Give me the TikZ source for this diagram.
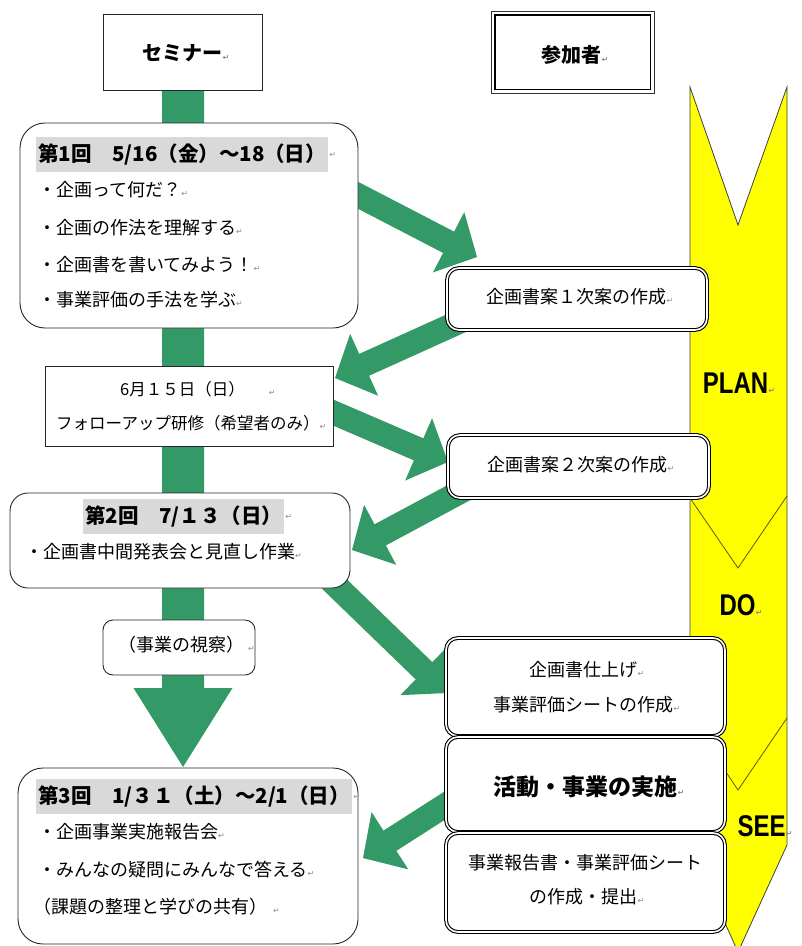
\documentclass[tikz,border=0pt]{standalone}
\usepackage{fontspec}
\setmainfont{Noto Sans CJK JP}
\newfontfamily\latinbf{Liberation Sans}
\newfontfamily\retfont{DejaVu Sans}
\usetikzlibrary{calc}
\definecolor{arrowgreen}{RGB}{51,153,102}
\definecolor{hlgray}{RGB}{217,217,217}
\definecolor{bandyellow}{RGB}{255,255,0}
\definecolor{sepline}{RGB}{90,90,20}
\newcommand\pmk{{\retfont\fontsize{8}{8}\selectfont\color{black!45}↵}}
% #1 start, #2 tip, #3 shaft half width, #4 head half width, #5 head length
\newcommand\blockarrow[5]{%
  \coordinate (ab) at ($(#2)!#5!(#1)$);
  \fill[arrowgreen] ($(#1)!#3!90:(#2)$) -- ($(ab)!#3!-90:(#1)$) -- ($(ab)!#4!-90:(#1)$) -- (#2)
    -- ($(ab)!#4!90:(#1)$) -- ($(ab)!#3!90:(#1)$) -- ($(#1)!#3!-90:(#2)$) -- cycle;
}
\tikzset{
  plainbox/.style={draw=black!85, line width=0.9pt, fill=white, inner sep=0pt},
  roundbox/.style={plainbox, rounded corners=22pt},
  dblbox/.style={draw=black, fill=white, double=white, double distance=1.6pt, line width=1.1pt, rounded corners=12pt, inner sep=0pt},
  txt/.style={inner sep=0pt, anchor=west, font=\fontsize{18}{18}\selectfont},
  ctxt/.style={inner sep=0pt, font=\fontsize{18}{18}\selectfont},
  ttl/.style={inner xsep=2pt, inner ysep=0pt, anchor=west, fill=hlgray, minimum height=35pt, font=\fontsize{20.5}{20.5}\selectfont\bfseries},
  retn/.style={inner sep=1pt, anchor=west},
  pdc/.style={inner sep=0pt, font=\latinbf\bfseries\fontsize{24}{24}\selectfont},
}
\begin{document}
\begin{tikzpicture}[x=1pt,y=-1pt]
\useasboundingbox (0,0) rectangle (802,946);

% yellow PDS band
\fill[bandyellow, draw=black!75, line width=0.8pt] (690,87) -- (738,225) -- (787,87) -- (787,845) -- (738,952) -- (690,845) -- cycle;
\draw[sepline, line width=0.8pt] (690,498) -- (738,568) -- (787,496);
\draw[sepline, line width=0.8pt] (690,718) -- (738,790) -- (787,718);

% arrow end points
\coordinate (mS) at (183,90);   \coordinate (mT) at (183,767);
\coordinate (aS) at (344,188);  \coordinate (aT) at (477,257);
\coordinate (bS) at (470,317);  \coordinate (bT) at (335,378);
\coordinate (cS) at (325,409);  \coordinate (cT) at (448,462);
\coordinate (dS) at (475,484);  \coordinate (dT) at (352,550);
\coordinate (eS) at (322,572);  \coordinate (eT) at (447,693);
\coordinate (fS) at (455,799);  \coordinate (fT) at (363,858);

\blockarrow{mS}{mT}{21pt}{49.5pt}{79pt}
\blockarrow{aS}{aT}{12pt}{34pt}{32pt}
\blockarrow{bS}{bT}{12pt}{34pt}{32pt}
\blockarrow{cS}{cT}{12pt}{34pt}{32pt}
\blockarrow{dS}{dT}{12pt}{34pt}{32pt}
\blockarrow{eS}{eT}{12pt}{34pt}{32pt}
\blockarrow{fS}{fT}{12pt}{34pt}{32pt}

% header boxes
\node[plainbox, minimum width=159pt, minimum height=76pt] (sem) at (182.5,52) {};
\node[inner sep=0pt, font=\fontsize{20}{20}\selectfont\bfseries] (semt) at (186,53) {セミナー\pmk};
\node[plainbox, draw=black!80, line width=0.8pt, minimum width=163pt, minimum height=82pt] (par) at (572.5,52) {};
\draw[line width=1.8pt] ($(par.north west)+(4,4)$) rectangle ($(par.south east)+(-4,-4)$);
\node[inner sep=0pt, font=\fontsize{20}{20}\selectfont\bfseries] (part) at (575,55) {参加者\pmk};

% seminar 1
\node[roundbox, rounded corners=25pt, minimum width=338pt, minimum height=205pt] (b1) at (189,225.5) {};
\node[ttl] (b1t) at (36,154.5) {第1回　5/16（金）～18（日）};
\node[retn] (b1tr) at (b1t.east) {\pmk};
\node[txt] (b1a) at (38,190) {・企画って何だ？\pmk};
\node[txt] (b1b) at (38,228) {・企画の作法を理解する\pmk};
\node[txt] (b1c) at (38,265) {・企画書を書いてみよう！\pmk};
\node[txt] (b1d) at (38,300) {・事業評価の手法を学ぶ\pmk};

% follow up
\node[plainbox, minimum width=288pt, minimum height=80pt] (f6) at (189,406) {};
\node[txt, font=\fontsize{16.5}{16.5}\selectfont] (f6a) at (120,389) {6月１５日（日）\hspace{24pt}\pmk};
\node[txt, font=\fontsize{16.5}{16.5}\selectfont] (f6b) at (56,423) {フォローアップ研修（希望者のみ）\pmk};

% seminar 2
\node[roundbox, rounded corners=18pt, minimum width=340pt, minimum height=95pt] (b2) at (180,540.5) {};
\node[ttl] (b2t) at (83,516.5) {第2回　7/１３（日）};
\node[retn] (b2tr) at (b2t.east) {\pmk};
\node[txt] (b2a) at (25,552) {・企画書中間発表会と見直し作業\pmk};

% inspection
\node[roundbox, rounded corners=10pt, minimum width=152pt, minimum height=55pt] (ins) at (179,647.5) {};
\node[txt] (inst) at (118,645) {（事業の視察）\hspace{4pt}\pmk};

% seminar 3
\node[roundbox, rounded corners=25pt, minimum width=340pt, minimum height=176pt] (b3) at (188,856) {};
\node[ttl] (b3t) at (36,796.5) {第3回　1/３１（土）～2/1（日）};
\node[retn] (b3tr) at (b3t.east) {\pmk};
\node[txt] (b3a) at (38,832) {・企画事業実施報告会\pmk};
\node[txt] (b3b) at (38,870) {・みんなの疑問にみんなで答える\pmk};
\node[txt] (b3c) at (33,907) {（課題の整理と学びの共有）\hspace{6pt}\pmk};

% participant boxes
\node[dblbox, minimum width=260pt, minimum height=62pt] (p1) at (577,299) {};
\node[ctxt] (p1t) at (580,297) {企画書案１次案の作成\pmk};
\node[dblbox, minimum width=261pt, minimum height=63pt] (p2) at (578.5,466.5) {};
\node[ctxt] (p2t) at (581,465) {企画書案２次案の作成\pmk};
\node[dblbox, minimum width=279pt, minimum height=98pt] (p3) at (585.5,687) {};
\node[ctxt] (p3a) at (587,670) {企画書仕上げ\pmk};
\node[ctxt] (p3b) at (587,705) {事業評価シートの作成\pmk};
\node[dblbox, minimum width=279pt, minimum height=95pt] (p4) at (585.5,784.5) {};
\node[inner sep=0pt, font=\fontsize{23}{23}\selectfont\bfseries] (p4t) at (589,787) {活動・事業の実施\pmk};
\node[dblbox, minimum width=279pt, minimum height=99pt] (p5) at (585.5,882.5) {};
\node[ctxt] (p5a) at (585,863) {事業報告書・事業評価シート};
\node[ctxt] (p5b) at (587,897) {の作成・提出\pmk};

% PDS labels
\node[pdc] (plan) at (739,383) {\scalebox{1}[1.25]{PLAN}\pmk};
\node[pdc] (do) at (741,605) {\scalebox{1}[1.25]{DO}\pmk};
\node[pdc] (see) at (765,826) {\scalebox{1}[1.25]{SEE}\pmk};
\end{tikzpicture}
\end{document}
